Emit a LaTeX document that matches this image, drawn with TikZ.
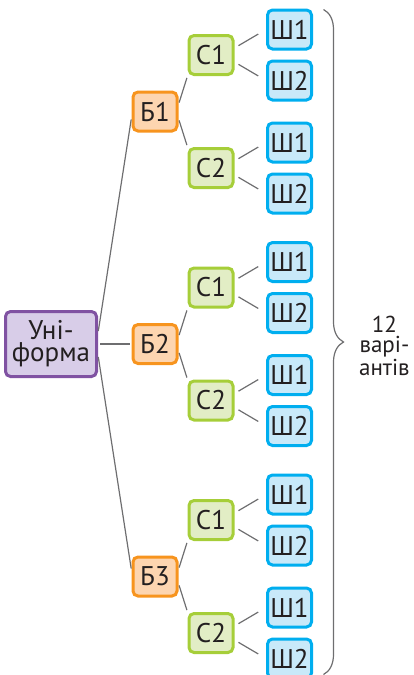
\documentclass[tikz,border=0pt]{standalone}
\usepackage{fontspec}
\setmainfont{PT Sans}
\usetikzlibrary{positioning}
\usetikzlibrary{decorations.pathreplacing}

\definecolor{textDark}{RGB}{35,31,32}
\definecolor{linkGray}{RGB}{110,110,112}
\definecolor{rootFill}{RGB}{216,205,232}
\definecolor{rootLine}{RGB}{128,82,162}
\definecolor{firstFill}{RGB}{253,213,176}
\definecolor{firstLine}{RGB}{247,148,30}
\definecolor{secondFill}{RGB}{226,237,197}
\definecolor{secondLine}{RGB}{166,206,57}
\definecolor{thirdFill}{RGB}{200,233,249}
\definecolor{thirdLine}{RGB}{0,174,239}

\begin{document}
\begin{tikzpicture}[
    x=0.5pt, y=-0.5pt,
    box/.style={draw, on grid, line width=1.5pt, rounded corners=2.5pt,
        text=textDark, inner sep=0pt, minimum width=22pt, minimum height=19.5pt,
        font=\fontsize{13.5}{11}\selectfont},
    root/.style={box, draw=rootLine, fill=rootFill, align=center,
        minimum width=45.5pt, minimum height=32.5pt},
    first/.style={box, draw=firstLine, fill=firstFill},
    second/.style={box, draw=secondLine, fill=secondFill},
    third/.style={box, draw=thirdLine, fill=thirdFill},
    link/.style={draw=linkGray, line width=0.6pt, shorten <=1pt, shorten >=1pt},
    leaf/.style={link, shorten <=2.3pt, shorten >=4.5pt},
    group/.style={draw=linkGray, line width=0.6pt, decorate,
        decoration={brace, amplitude=10pt}},
]

\useasboundingbox (0,0) rectangle (413,675);

%----------------------------------
% Root
%----------------------------------

\node[root] (uni) at (51,344) {Уні-\\форма};

%----------------------------------
% Branch Б1
%----------------------------------

\node[first, above right=116.25pt and 52pt of uni] (b1) {Б1};

\node[second, above right=28.25pt and 28pt of b1] (b1C1) {С1};
\node[second, below right=28.25pt and 28pt of b1] (b1C2) {С2};

\node[third, above right=12.75pt and 39.25pt of b1C1] (b1C1S1) {Ш1};
\node[third, below right=12.75pt and 39.25pt of b1C1] (b1C1S2) {Ш2};
\node[third, above right=12.75pt and 39.25pt of b1C2] (b1C2S1) {Ш1};
\node[third, below right=12.75pt and 39.25pt of b1C2] (b1C2S2) {Ш2};

%----------------------------------
% Branch Б2
%----------------------------------

\node[first, right=52pt of uni] (b2) {Б2};

\node[second, above right=28.25pt and 28pt of b2] (b2C1) {С1};
\node[second, below right=28.25pt and 28pt of b2] (b2C2) {С2};

\node[third, above right=12.75pt and 39.25pt of b2C1] (b2C1S1) {Ш1};
\node[third, below right=12.75pt and 39.25pt of b2C1] (b2C1S2) {Ш2};
\node[third, above right=12.75pt and 39.25pt of b2C2] (b2C2S1) {Ш1};
\node[third, below right=12.75pt and 39.25pt of b2C2] (b2C2S2) {Ш2};

%----------------------------------
% Branch Б3
%----------------------------------

\node[first, below right=116.25pt and 52pt of uni] (b3) {Б3};

\node[second, above right=28.25pt and 28pt of b3] (b3C1) {С1};
\node[second, below right=28.25pt and 28pt of b3] (b3C2) {С2};

\node[third, above right=12.75pt and 39.25pt of b3C1] (b3C1S1) {Ш1};
\node[third, below right=12.75pt and 39.25pt of b3C1] (b3C1S2) {Ш2};
\node[third, above right=12.75pt and 39.25pt of b3C2] (b3C2S1) {Ш1};
\node[third, below right=12.75pt and 39.25pt of b3C2] (b3C2S2) {Ш2};

%----------------------------------
% Links
%----------------------------------

\draw[link] ([yshift=5.5pt]uni.east) -- ([yshift=-3pt]b1.west);
\draw[link] (uni.east) -- (b2.west);
\draw[link] ([yshift=-5.5pt]uni.east) -- ([yshift=3pt]b3.west);

\draw[link] ([yshift=3.5pt]b1.east) -- (b1C1.south west);
\draw[link] ([yshift=-3.5pt]b1.east) -- (b1C2.north west);
\draw[link] ([yshift=3.5pt]b2.east) -- (b2C1.south west);
\draw[link] ([yshift=-3.5pt]b2.east) -- (b2C2.north west);
\draw[link] ([yshift=3.5pt]b3.east) -- (b3C1.south west);
\draw[link] ([yshift=-3.5pt]b3.east) -- (b3C2.north west);

\draw[leaf] ([yshift=3.5pt]b1C1.east) -- (b1C1S1.west);
\draw[leaf] ([yshift=-3.5pt]b1C1.east) -- (b1C1S2.west);
\draw[leaf] ([yshift=3.5pt]b1C2.east) -- (b1C2S1.west);
\draw[leaf] ([yshift=-3.5pt]b1C2.east) -- (b1C2S2.west);

\draw[leaf] ([yshift=3.5pt]b2C1.east) -- (b2C1S1.west);
\draw[leaf] ([yshift=-3.5pt]b2C1.east) -- (b2C1S2.west);
\draw[leaf] ([yshift=3.5pt]b2C2.east) -- (b2C2S1.west);
\draw[leaf] ([yshift=-3.5pt]b2C2.east) -- (b2C2S2.west);

\draw[leaf] ([yshift=3.5pt]b3C1.east) -- (b3C1S1.west);
\draw[leaf] ([yshift=-3.5pt]b3C1.east) -- (b3C1S2.west);
\draw[leaf] ([yshift=3.5pt]b3C2.east) -- (b3C2S1.west);
\draw[leaf] ([yshift=-3.5pt]b3C2.east) -- (b3C2S2.west);

%----------------------------------
% Brace with total
%----------------------------------

\draw[group]
    ([xshift=5.25pt,yshift=-0.5pt]b1C1S1.north east)
    -- ([xshift=5.25pt,yshift=2.5pt]b3C2S2.south east)
    node[midway, anchor=west, xshift=17.5pt, yshift=-2pt, inner sep=0pt,
        align=center, text=textDark, font=\fontsize{11.5}{10}\selectfont]
    (total) {12\\варі-\\антів};

\end{tikzpicture}
\end{document}
